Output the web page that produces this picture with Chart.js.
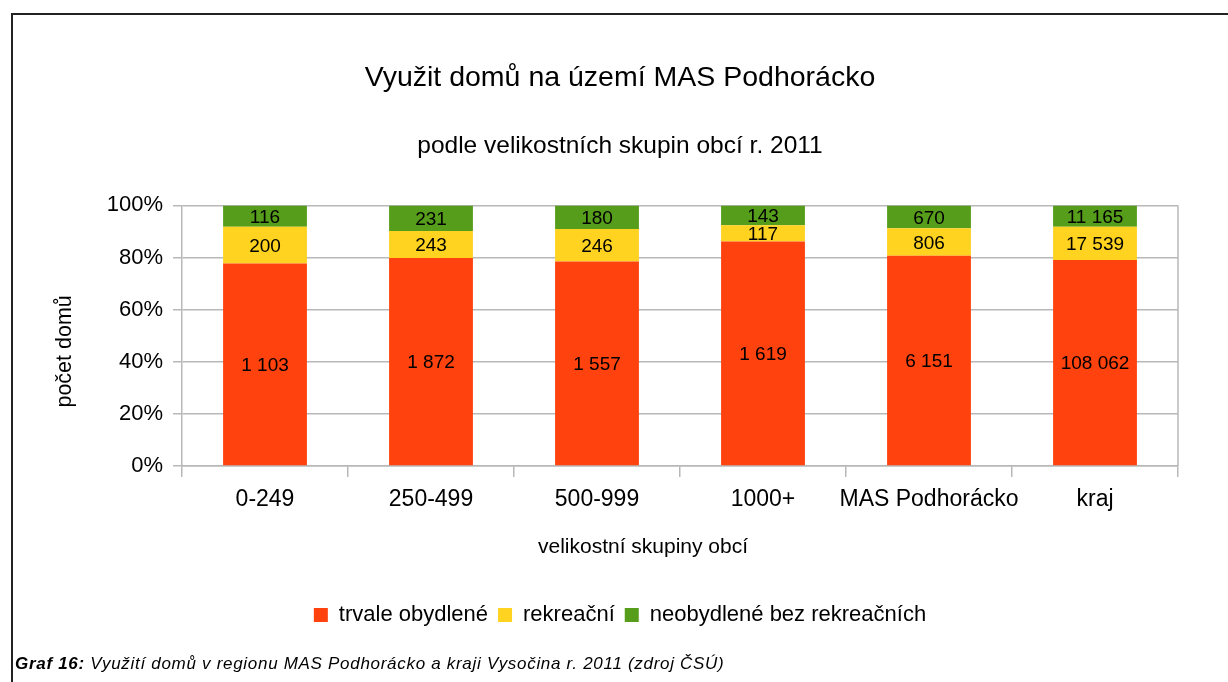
<!DOCTYPE html>
<html>
<head>
<meta charset="utf-8">
<script src="https://cdn.jsdelivr.net/npm/chart.js@4.4.1/dist/chart.umd.min.js"></script>
<style>
  html, body { margin: 0; padding: 0; background: #fff; }
  body { width: 1228px; height: 682px; position: relative; overflow: hidden; font-family: 'Liberation Sans', Arial, sans-serif; }
  #frame { position: absolute; left: 11px; top: 13px; width: 1300px; height: 700px; border-left: 2px solid #222; border-top: 2px solid #222; }
  #chartBox { position: absolute; left: 0; top: 0; width: 1228px; height: 682px; }
  #caption { position: absolute; left: 15px; top: 654px; font-size: 17px; letter-spacing: 0.7px; font-style: italic; color: #000; white-space: nowrap; }
</style>
</head>
<body>
<div id="frame"></div>
<div id="chartBox"><canvas id="domyChart" width="1228" height="682"></canvas></div>
<div id="caption"><b>Graf 16:</b> Využití domů v regionu MAS Podhorácko a kraji Vysočina r. 2011 (zdroj ČSÚ)</div>
<script>
// velikostní skupiny obcí
const categories = ['0-249', '250-499', '500-999', '1000+', 'MAS Podhorácko', 'kraj'];

// počty domů
const trvale = [1103, 1872, 1557, 1619, 6151, 108062];
const rekreacni = [200, 243, 246, 117, 806, 17539];
const neobydlene = [116, 231, 180, 143, 670, 11165];

const seriesNames = ['trvale obydlené', 'rekreační', 'neobydlené bez rekreačních'];
const seriesColors = ['#ff420e', '#ffd320', '#579d1c'];

// 100 % stacked: share of each category total
const totals = categories.map((c, i) => trvale[i] + rekreacni[i] + neobydlene[i]);
const toPct = arr => arr.map((v, i) => v / totals[i] * 100);

function formatNum(n) {
    return String(n).replace(/\B(?=(\d{3})+(?!\d))/g, ' ');
}

const rawBySeries = [trvale, rekreacni, neobydlene];
const FONT = '"Liberation Sans", Arial, sans-serif';

// draw the absolute counts in the middle of each segment
const segmentLabels = {
    id: 'segmentLabels',
    afterDatasetsDraw(chart) {
        const ctx = chart.ctx;
        ctx.save();
        ctx.font = '19px ' + FONT;
        ctx.fillStyle = '#000';
        ctx.textAlign = 'center';
        ctx.textBaseline = 'middle';
        chart.data.datasets.forEach((ds, di) => {
            const meta = chart.getDatasetMeta(di);
            meta.data.forEach((bar, i) => {
                const y = (bar.y + bar.base) / 2;
                ctx.fillText(formatNum(rawBySeries[di][i]), bar.x, y + 1.5);
            });
        });
        ctx.restore();
    }
};

// right edge of the plot area + axis titles (placed like in the original)
const plotExtras = {
    id: 'plotExtras',
    beforeDatasetsDraw(chart) {
        const a = chart.chartArea;
        const ctx = chart.ctx;
        ctx.save();
        ctx.strokeStyle = '#b8b8b8';
        ctx.lineWidth = 1.5;
        ctx.beginPath();
        ctx.moveTo(a.right, a.top);
        ctx.lineTo(a.right, a.bottom);
        ctx.stroke();
        ctx.restore();
    },
    afterDraw(chart) {
        const a = chart.chartArea;
        const ctx = chart.ctx;
        ctx.save();
        ctx.fillStyle = '#000';
        ctx.textAlign = 'center';
        ctx.textBaseline = 'middle';
        ctx.font = '21px ' + FONT;
        ctx.fillText('velikostní skupiny obcí', a.left + 461, a.bottom + 81);
        ctx.translate(a.left - 117, a.top + 146);
        ctx.rotate(-Math.PI / 2);
        ctx.font = '21.5px ' + FONT;
        ctx.fillText('počet domů', 0, 0);
        ctx.restore();
    }
};

const ctx = document.getElementById('domyChart').getContext('2d');
const domyChart = new Chart(ctx, {
    type: 'bar',
    data: {
        labels: categories,
        datasets: [trvale, rekreacni, neobydlene].map((arr, i) => ({
            label: seriesNames[i],
            data: toPct(arr),
            backgroundColor: seriesColors[i],
            borderWidth: 0,
            barPercentage: 0.505,
            categoryPercentage: 1
        }))
    },
    options: {
        responsive: false,
        animation: false,
        layout: { padding: { left: 62, right: 50, top: 0, bottom: 46 } },
        font: { family: FONT },
        plugins: {
            title: {
                display: true,
                text: 'Využit domů na území MAS Podhorácko',
                color: '#000',
                font: { size: 28.5, weight: 'normal' },
                padding: { top: 61.5, bottom: 20 }
            },
            subtitle: {
                display: true,
                text: 'podle velikostních skupin obcí r. 2011',
                color: '#000',
                font: { size: 24.5, weight: 'normal' },
                padding: { top: 16, bottom: 44.3 }
            },
            legend: {
                position: 'bottom',
                labels: {
                    color: '#000',
                    font: { size: 22 },
                    boxWidth: 14,
                    boxHeight: 14,
                    padding: 10
                }
            },
            tooltip: { enabled: false }
        },
        scales: {
            x: {
                stacked: true,
                afterFit: scale => { scale.height = 128; },
                grid: {
                    drawOnChartArea: false,
                    drawTicks: true,
                    tickLength: 11,
                    color: '#b8b8b8',
                    lineWidth: 1.5
                },
                border: { color: '#b8b8b8', width: 1.5 },
                ticks: {
                    color: '#000',
                    font: { size: 23 },
                    padding: 9,
                    maxRotation: 0,
                    autoSkip: false
                }
            },
            y: {
                stacked: true,
                min: 0,
                max: 100,
                afterFit: scale => { scale.width = 120; },
                grid: {
                    color: '#b8b8b8',
                    lineWidth: 1.5,
                    tickLength: 9
                },
                border: { color: '#b8b8b8', width: 1.5 },
                ticks: {
                    stepSize: 20,
                    color: '#000',
                    font: { size: 22 },
                    padding: 10,
                    callback: v => v + '%'
                }
            }
        }
    },
    plugins: [segmentLabels, plotExtras]
});
</script>
</body>
</html>
